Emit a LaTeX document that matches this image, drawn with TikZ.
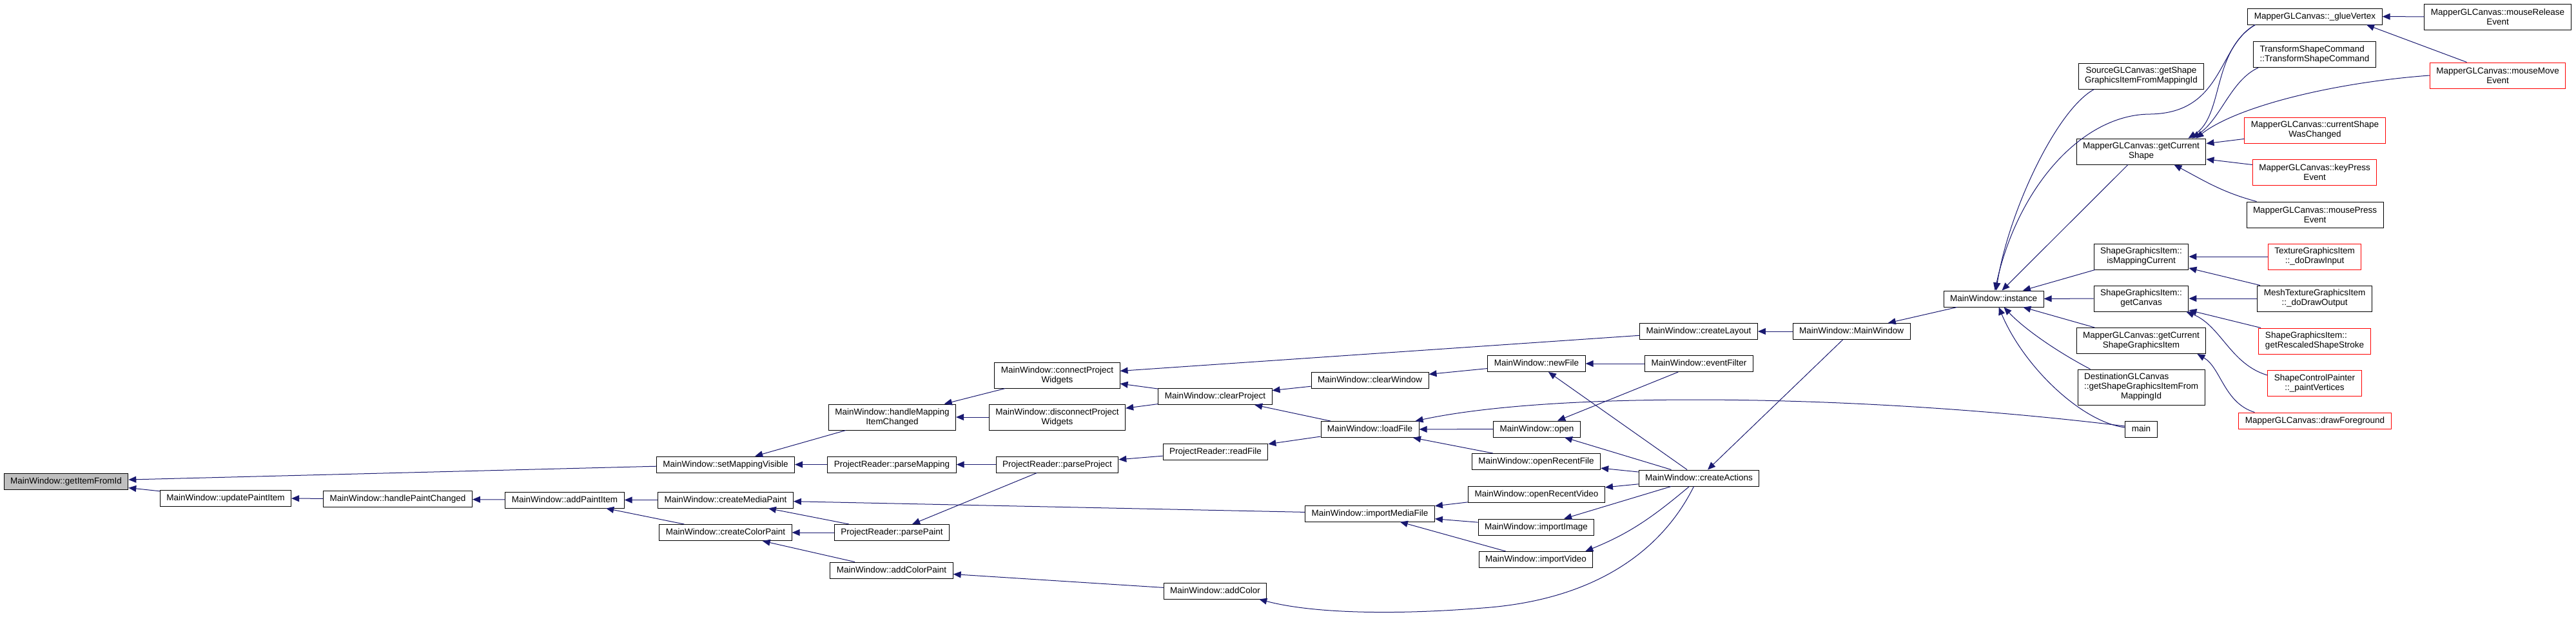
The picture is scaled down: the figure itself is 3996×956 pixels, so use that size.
\documentclass[tikz,border=0pt]{standalone}
\usepackage{fontspec}
\setmainfont{Liberation Sans}
\usepackage{tikz}
\usetikzlibrary{arrows.meta}
\definecolor{edgeblue}{HTML}{191970}
\definecolor{focusgray}{HTML}{BFBFBF}

\begin{document}
\begin{tikzpicture}[
  x=1pt, y=-1pt,
  fnbox/.style={draw=black, fill=white, line width=1pt, inner xsep=10pt, inner ysep=1pt, font=\fontsize{13.5}{15}\selectfont},
  fn/.style={fnbox, minimum height=25pt, text height=10pt, text depth=3pt},
  fn2/.style={fnbox, minimum height=40pt, align=center},
  fn3/.style={fnbox, minimum height=55pt},
  cut/.style={draw=red},
  focus/.style={fill=focusgray},
  call/.style={-{Triangle[length=12pt, width=10pt]}, edgeblue, line width=1pt},
]
  \useasboundingbox (0,0) rectangle (3996,956);

  % MainWindow side
  \node[fn, focus] (getitem) at (102.5,746.5) {MainWindow::getItemFromId};
  \node[fn] (updpaint) at (350,772.5) {MainWindow::updatePaintItem};
  \node[fn] (hpaint) at (617,774) {MainWindow::handlePaintChanged};
  \node[fn] (addpaint) at (876,775.5) {MainWindow::addPaintItem};
  \node[fn] (setvis) at (1125.5,720.5) {MainWindow::setMappingVisible};
  \node[fn] (mediapaint) at (1125.5,775.5) {MainWindow::createMediaPaint};
  \node[fn] (colorpaint) at (1125.5,826) {MainWindow::createColorPaint};
  \node[fn2] (hmap) at (1384,647) {MainWindow::handleMapping\\ItemChanged};
  \node[fn] (parsemap) at (1383.5,720.5) {ProjectReader::parseMapping};
  \node[fn] (parsepaint) at (1383.5,826) {ProjectReader::parsePaint};
  \node[fn] (addcolorpaint) at (1383,884.5) {MainWindow::addColorPaint};
  \node[fn2] (conn) at (1640,582) {MainWindow::connectProject\\Widgets};
  \node[fn2] (disconn) at (1640,647) {MainWindow::disconnectProject\\Widgets};
  \node[fn] (parseproj) at (1640,720.5) {ProjectReader::parseProject};
  \node[fn] (clearproj) at (1885,615) {MainWindow::clearProject};
  \node[fn] (readfile) at (1885.5,700.5) {ProjectReader::readFile};
  \node[fn] (addcolor) at (1885,916.5) {MainWindow::addColor};
  \node[fn] (clearwin) at (2125,589.5) {MainWindow::clearWindow};
  \node[fn] (loadfile) at (2125,666) {MainWindow::loadFile};
  \node[fn] (impmedia) at (2125,796.5) {MainWindow::importMediaFile};
  \node[fn] (newfile) at (2383.5,564) {MainWindow::newFile};
  \node[fn] (open) at (2384,665.5) {MainWindow::open};
  \node[fn] (recentfile) at (2383,716) {MainWindow::openRecentFile};
  \node[fn] (recentvideo) at (2383.5,766.5) {MainWindow::openRecentVideo};
  \node[fn] (impimage) at (2383,817.5) {MainWindow::importImage};
  \node[fn] (impvideo) at (2382.5,868) {MainWindow::importVideo};
  \node[fn] (layout) at (2635,514) {MainWindow::createLayout};
  \node[fn] (evfilter) at (2635.5,564) {MainWindow::eventFilter};
  \node[fn] (actions) at (2635.5,741.5) {MainWindow::createActions};
  \node[fn] (ctor) at (2872,514) {MainWindow::MainWindow};
  \node[fn] (instance) at (3092.5,463.5) {MainWindow::instance};

  % canvas and graphics item side
  \node[fn2] (srcshape) at (3321.5,118) {SourceGLCanvas::getShape\\GraphicsItemFromMappingId};
  \node[fn2] (curshape) at (3321.5,235) {MapperGLCanvas::getCurrent\\Shape};
  \node[fn2] (ismapcur) at (3321.5,398) {ShapeGraphicsItem::\\isMappingCurrent};
  \node[fn2] (getcanvas) at (3321.5,463) {ShapeGraphicsItem::\\getCanvas};
  \node[fn2] (curshapeitem) at (3321.5,528.5) {MapperGLCanvas::getCurrent\\ShapeGraphicsItem};
  \node[fn3] (dstshape) at (3321.5,600.5) {\begin{tabular}{@{}l@{}}DestinationGLCanvas\\::getShapeGraphicsItemFrom\\\multicolumn{1}{@{}c@{}}{MappingId}\end{tabular}};
  \node[fn] (main) at (3321.5,666) {main};
  \node[fn] (glue) at (3591,25.5) {MapperGLCanvas::\_glueVertex};
  \node[fn2, align=left] (transform) at (3590.5,84.5) {TransformShapeCommand\\::TransformShapeCommand};
  \node[fn2, cut] (shapechanged) at (3591,202) {MapperGLCanvas::currentShape\\WasChanged};
  \node[fn2, cut] (keypress) at (3590.5,267) {MapperGLCanvas::keyPress\\Event};
  \node[fn2] (mousepress) at (3591,333) {MapperGLCanvas::mousePress\\Event};
  \node[fn2, cut] (drawinput) at (3590.5,398) {TextureGraphicsItem\\::\_doDrawInput};
  \node[fn2] (drawoutput) at (3590.5,463) {MeshTextureGraphicsItem\\::\_doDrawOutput};
  \node[fn2, cut, align=left] (stroke) at (3590.5,529) {ShapeGraphicsItem::\\getRescaledShapeStroke};
  \node[fn2, cut] (paintvert) at (3590.5,594) {ShapeControlPainter\\::\_paintVertices};
  \node[fn, cut] (foreground) at (3591,652.5) {MapperGLCanvas::drawForeground};
  \node[fn2] (mouserelease) at (3874.5,26) {MapperGLCanvas::mouseRelease\\Event};
  \node[fn2, cut] (mousemove) at (3874.5,117) {MapperGLCanvas::mouseMove\\Event};

  % calls into the paint / mapping helpers
  \draw[call] (updpaint) -- (getitem);
  \draw[call] (setvis) -- (getitem);
  \draw[call] (hpaint) -- (updpaint);
  \draw[call] (addpaint) -- (hpaint);
  \draw[call] (mediapaint) -- (addpaint);
  \draw[call] (colorpaint) -- (addpaint);
  \draw[call] (hmap) -- (setvis);
  \draw[call] (parsemap) -- (setvis);
  \draw[call] (conn) -- (hmap);
  \draw[call] (disconn) -- (hmap);
  \draw[call] (parsepaint) -- (mediapaint);
  \draw[call] (impmedia) -- (mediapaint);
  \draw[call] (parsepaint) -- (colorpaint);
  \draw[call] (addcolorpaint) -- (colorpaint);
  \draw[call] (parseproj) -- (parsemap);
  \draw[call] (parseproj) -- (parsepaint);
  \draw[call] (addcolor) -- (addcolorpaint);
  \draw[call] (clearproj) -- (conn);
  \draw[call] (layout) -- (conn);
  \draw[call] (clearproj) -- (disconn);
  \draw[call] (readfile) -- (parseproj);
  \draw[call] (clearwin) -- (clearproj);
  \draw[call] (loadfile) -- (clearproj);
  \draw[call] (loadfile) -- (readfile);
  \draw[call] (newfile) -- (clearwin);
  \draw[call] (open) -- (loadfile);
  \draw[call] (recentfile) -- (loadfile);
  \draw[call] ([yshift=5pt]main.west) .. controls (2900,612) and (2420,605) .. ([xshift=-6pt]loadfile.north east);
  \draw[call] (recentvideo) -- (impmedia);
  \draw[call] (impimage) -- (impmedia);
  \draw[call] (impvideo) -- (impmedia);

  % createActions and friends
  \draw[call] (evfilter) -- (newfile);
  \draw[call] (actions) -- (newfile);
  \draw[call] (evfilter) -- (open);
  \draw[call] (actions) -- (open);
  \draw[call] (actions) -- (recentfile);
  \draw[call] (actions) -- (recentvideo);
  \draw[call] (actions) -- (impimage);
  \draw[call] ([xshift=-15pt]actions.south) to[out=-140, in=22] ([xshift=-12pt]impvideo.north east);
  \draw[call] ([xshift=-8pt]actions.south) .. controls (2580,850) and (2480,930) .. (2300,943)
    .. controls (2150,955) and (2030,950) .. ([xshift=-12pt]addcolor.south east);
  \draw[call] (ctor) -- (layout);
  \draw[call] (ctor) -- (actions);
  \draw[call] (instance) -- (ctor);

  % callers of MainWindow::instance
  \draw[call] ([xshift=25pt]srcshape.south west) .. controls (3190,170) and (3115,330) .. ([xshift=4pt]instance.north);
  \draw[call] ([xshift=12pt]glue.south west) .. controls (3440,70) and (3450,175) .. (3336,177)
    .. controls (3230,177) and (3130,290) .. ([xshift=2pt]instance.north);
  \draw[call] (curshape) -- (instance);
  \draw[call] (ismapcur) -- (instance);
  \draw[call] (getcanvas) -- (instance);
  \draw[call] (curshapeitem) -- (instance);
  \draw[call] ([xshift=20pt]dstshape.north west) .. controls (3190,545) and (3140,510) .. ([xshift=16pt]instance.south);
  \draw[call] ([yshift=3pt]main.west) .. controls (3230,655) and (3140,570) .. ([xshift=8pt]instance.south);

  % callers of getCurrentShape
  \draw[call] ([xshift=12pt]glue.south west) .. controls (3430,80) and (3450,180) .. ([xshift=-28pt]curshape.north east);
  \draw[call] ([xshift=8pt]transform.south west) .. controls (3460,125) and (3445,185) .. ([xshift=-22pt]curshape.north east);
  \draw[call] (mousemove.west) .. controls (3620,128) and (3470,165) .. ([xshift=-16pt]curshape.north east);
  \draw[call] (shapechanged) -- (curshape);
  \draw[call] (keypress) -- (curshape);
  \draw[call] ([xshift=16pt]mousepress.north west) to[out=165, in=-28] ([xshift=-50pt]curshape.south east);

  % mouse events
  \draw[call] (mouserelease) -- (glue);
  \draw[call] ([xshift=-48pt]mousemove.north) -- ([xshift=80pt]glue.south);

  % graphics item callers
  \draw[call] (drawinput) -- (ismapcur);
  \draw[call] (drawoutput) -- (ismapcur);
  \draw[call] (drawoutput) -- (getcanvas);
  \draw[call] (stroke) -- (getcanvas);
  \draw[call] ([yshift=12pt]paintvert.west) .. controls (3460,565) and (3445,505) .. ([xshift=-4pt]getcanvas.south east);
  \draw[call] ([xshift=25pt]foreground.north west) .. controls (3450,625) and (3445,570) .. ([xshift=-14pt]curshapeitem.south east);
\end{tikzpicture}
\end{document}
